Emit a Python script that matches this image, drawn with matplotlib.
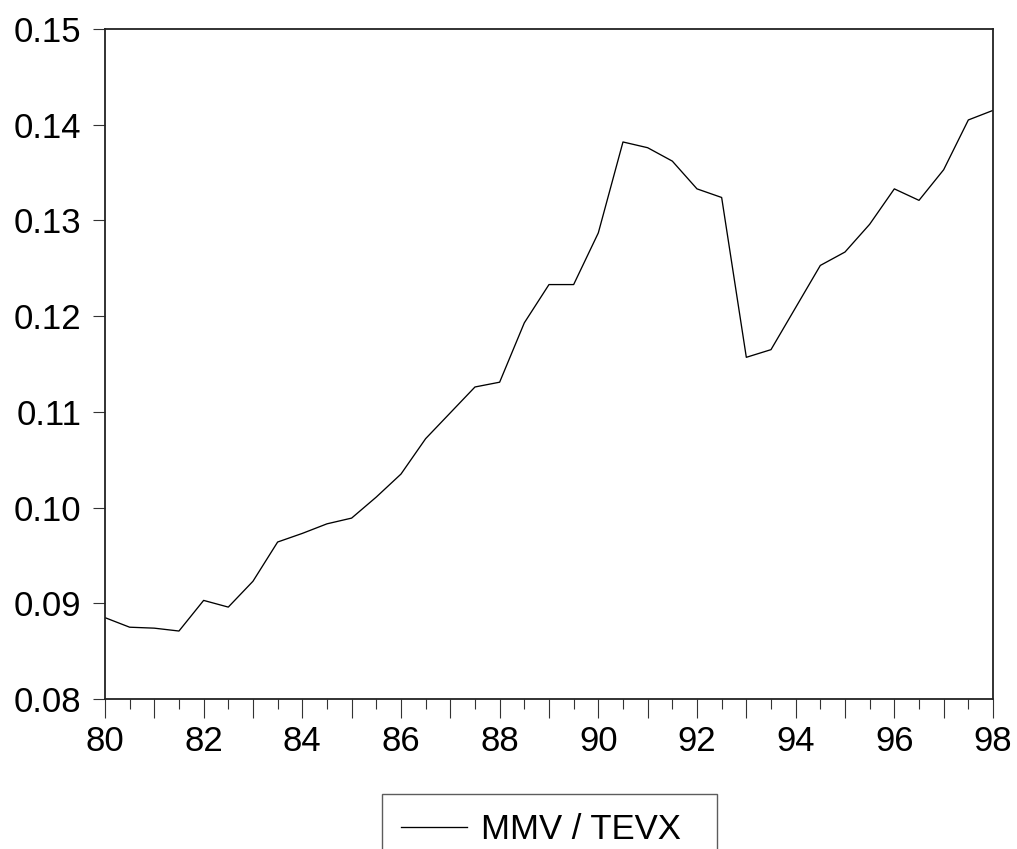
import numpy as np
import matplotlib.pyplot as plt
from matplotlib.ticker import MultipleLocator

plt.rcParams['font.family'] = ['Liberation Sans', 'DejaVu Sans']

# half-yearly observations, 1980 to 1998
years = np.arange(80, 98.01, 0.5)
ratio = [
    0.0885, 0.0875, 0.0874, 0.0871, 0.0903, 0.0896, 0.0923, 0.0964,
    0.0973, 0.0983, 0.0989, 0.1011, 0.1035, 0.1072, 0.1099, 0.1126,
    0.1131, 0.1193, 0.1233, 0.1233, 0.1287, 0.1382, 0.1376, 0.1362,
    0.1333, 0.1324, 0.1157, 0.1165, 0.1209, 0.1253, 0.1267, 0.1296,
    0.1333, 0.1321, 0.1353, 0.1405, 0.1415,
]
y_ticks = [0.08, 0.09, 0.10, 0.11, 0.12, 0.13, 0.14, 0.15]
x_ticks = list(range(80, 99))

fig = plt.figure(figsize=(10.17, 8.49), dpi=100)
ax = fig.add_axes([0.1032, 0.1767, 0.8732, 0.7891])

line, = ax.plot(years, ratio, color='black', lw=0.95, label='MMV / TEVX')

ax.set_xlim(80, 98)
ax.set_ylim(0.08, 0.15)
# long ticks every year, labels every second year, short ticks at half-years
ax.set_xticks(x_ticks)
ax.set_xticklabels([str(t) if t % 2 == 0 else '' for t in x_ticks])
ax.xaxis.set_minor_locator(MultipleLocator(0.5))
ax.set_yticks(y_ticks)
ax.set_yticklabels([f'{v:.2f}' for v in y_ticks])

ax.tick_params(axis='both', which='major', labelsize=25, direction='out',
               width=0.8, color='#333333')
ax.tick_params(axis='y', which='major', length=9, pad=8)
ax.tick_params(axis='x', which='major', length=14, pad=5)
ax.tick_params(axis='x', which='minor', length=7.5, width=0.8, color='#333333')

for s in ax.spines.values():
    s.set_linewidth(1.3)
    s.set_color('#222222')

# legend box centred below the plot, running off the bottom edge
leg = fig.legend(handles=[line], loc='upper left',
                 bbox_to_anchor=(382 / 1017, (849 - 794) / 849, 335 / 1017, 0),
                 mode='expand', fontsize=25, frameon=True, fancybox=False,
                 handlelength=1.9, handletextpad=0.4, borderpad=0.55,
                 borderaxespad=0)
leg.get_frame().set_edgecolor('#333333')
leg.get_frame().set_linewidth(1.0)

fig.savefig('out.png', dpi=100)
